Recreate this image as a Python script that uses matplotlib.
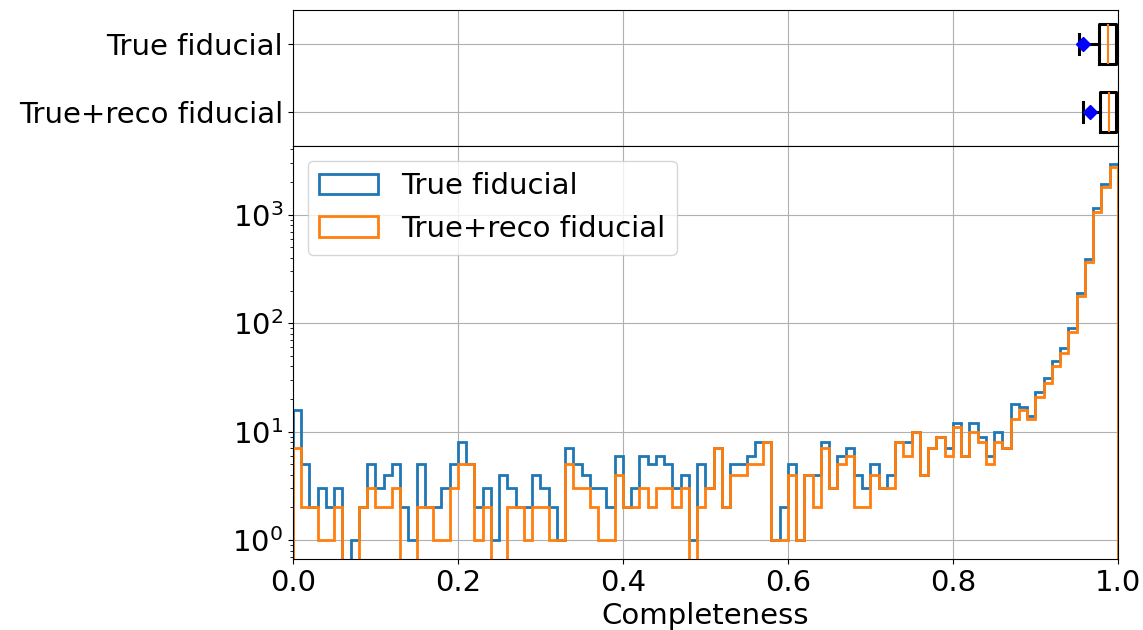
import numpy as np
import matplotlib.pyplot as plt

# completeness histogram, 100 bins between 0 and 1
edges = np.linspace(0, 1, 101)
true_fid = [16, 5, 2, 3, 2, 3, 0, 1, 2, 5,
            3, 4, 5, 2, 1, 5, 2, 2, 3, 5,
            8, 5, 2, 3, 1, 4, 3, 2, 2, 4,
            3, 2, 1, 7, 5, 4, 3, 3, 2, 6,
            2, 3, 6, 5, 6, 5, 3, 4, 1, 5,
            3, 7, 2, 5, 5, 6, 8, 8, 1, 2,
            5, 1, 4, 4, 8, 3, 6, 7, 4, 3,
            5, 3, 4, 8, 8, 10, 4, 7, 9, 7,
            12, 6, 12, 9, 6, 10, 7, 18, 17, 14,
            23, 31, 45, 59, 91, 190, 395, 1150, 1940, 2960]
true_reco_fid = [7, 2, 2, 1, 1, 2, 0, 0, 2, 3,
                 2, 2, 3, 0, 0, 2, 2, 1, 1, 3,
                 5, 5, 1, 2, 0, 0, 2, 2, 1, 2,
                 2, 1, 1, 5, 3, 3, 2, 1, 1, 4,
                 2, 2, 3, 2, 3, 3, 2, 3, 0, 2,
                 3, 7, 2, 4, 4, 5, 5, 8, 1, 1,
                 4, 1, 4, 2, 7, 3, 5, 6, 2, 2,
                 4, 3, 3, 8, 6, 10, 4, 7, 9, 6,
                 11, 6, 10, 8, 5, 8, 7, 13, 16, 13,
                 21, 28, 40, 53, 83, 180, 370, 1070, 1790, 2770]
labels = ['True fiducial', 'True+reco fiducial']

# box summary (no fliers)
box_stats = [
    dict(label='True fiducial', whislo=0.953, q1=0.977, med=0.988, q3=0.998, whishi=1.0, mean=0.958, fliers=[]),
    dict(label='True+reco fiducial', whislo=0.958, q1=0.978, med=0.989, q3=0.998, whishi=1.0, mean=0.966, fliers=[]),
]

plt.rcParams['font.size'] = 21

fig = plt.figure(figsize=(11.43, 6.3), dpi=100)
gs = fig.add_gridspec(2, 1, height_ratios=[136, 413], hspace=0,
                      left=0.2563, right=0.978, bottom=0.1127, top=0.984)
ax_box = fig.add_subplot(gs[0])
ax = fig.add_subplot(gs[1], sharex=ax_box)

ax_box.bxp(box_stats, positions=[2, 1], orientation='horizontal', widths=0.6,
           showmeans=True, showfliers=False,
           boxprops=dict(lw=2.2), whiskerprops=dict(lw=2.2), capprops=dict(lw=2.2),
           medianprops=dict(color='C1', lw=1.5),
           meanprops=dict(marker='D', markerfacecolor='blue', markeredgecolor='blue', markersize=7))
ax_box.set_ylim(0.5, 2.5)
ax_box.grid()
ax_box.tick_params(bottom=False, labelbottom=False)

ax.hist(edges[:-1], bins=edges, weights=true_fid, histtype='step', lw=2, label=labels[0], log=True)
ax.hist(edges[:-1], bins=edges, weights=true_reco_fid, histtype='step', lw=2, label=labels[1], log=True)
ax.set_xlim(0, 1)
ax.set_ylim(0.67, 4300)
ax.set_xlabel('Completeness')
ax.grid()
ax.legend(loc='upper left')

fig.savefig('out.png')
